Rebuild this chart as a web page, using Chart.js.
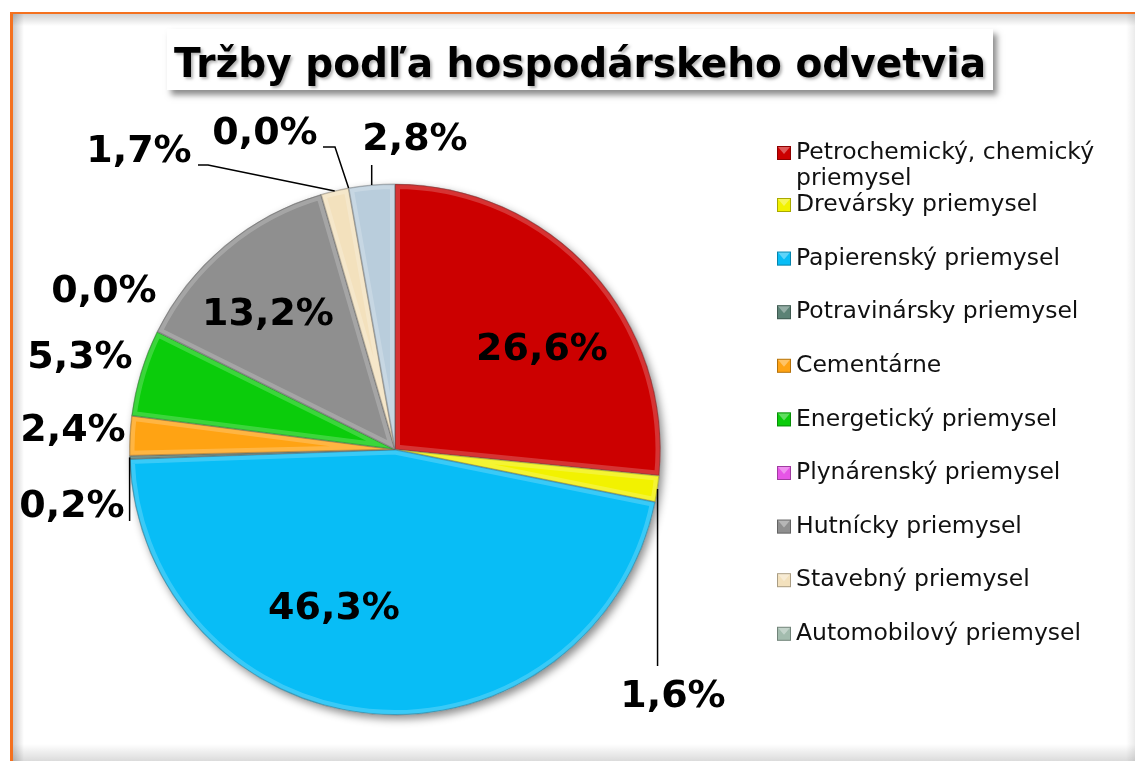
<!DOCTYPE html>
<html lang="sk">
<head>
<meta charset="utf-8">
<title>Tržby podľa hospodárskeho odvetvia</title>
<script src="https://cdn.jsdelivr.net/npm/chart.js@4.4.1/dist/chart.umd.min.js"></script>
<style>
  html, body { margin: 0; padding: 0; background: #fff; }
  canvas { display: block; }
</style>
</head>
<body>
<canvas id="myChart" width="1135" height="761"></canvas>
<script>
// --- data ---
const chartTitle = 'Tržby podľa hospodárskeho odvetvia';
const categories = [
  'Petrochemický, chemický priemysel',
  'Drevársky priemysel',
  'Papierenský priemysel',
  'Potravinársky priemysel',
  'Cementárne',
  'Energetický priemysel',
  'Plynárenský priemysel',
  'Hutnícky priemysel',
  'Stavebný priemysel',
  'Automobilový priemysel',
  'Ostatné'
];
// shares in %
const shares = [26.6, 1.6, 46.3, 0.2, 2.4, 5.3, 0.0, 13.2, 1.7, 0.0, 2.8];
const sliceColors = [
  '#cc0000', '#f2f200', '#08bdf6', '#5b8275', '#ffa313', '#0bcc0b',
  '#e655e6', '#8f8f8f', '#f3e1bd', '#a3bcae', '#b9cddc'
];
// the original legend shows only the first ten categories
const legendCount = 10;

// where the percentage labels sit; leader points with x = null keep the x of the slice edge
const labelSpots = [
  { x: 542, y: 350 },
  { x: 673, y: 697, leader: [[null, 666]] },
  { x: 334, y: 609 },
  { x: 72, y: 507, leader: [[null, 521]] },
  { x: 73, y: 431 },
  { x: 80, y: 358 },
  { x: 104, y: 292 },
  { x: 268, y: 315 },
  { x: 139, y: 152, leader: [[208, 165], [198, 165]] },
  { x: 265, y: 134, leader: [[335, 147], [323, 147]] },
  { x: 415, y: 140, leader: [[null, 165]] }
];

function fmtPct(v) {
  return v.toFixed(1).replace('.', ',') + '%';
}

// frame, title box
const backdrop = {
  id: 'backdrop',
  beforeDraw(chart) {
    const ctx = chart.ctx;
    const w = chart.width, h = chart.height;
    ctx.save();
    ctx.fillStyle = '#fff';
    ctx.fillRect(0, 0, w, h);

    // soft inner shadows of the frame
    let g = ctx.createLinearGradient(12, 0, 24, 0);
    g.addColorStop(0, 'rgba(0,0,0,0.22)');
    g.addColorStop(1, 'rgba(0,0,0,0)');
    ctx.fillStyle = g;
    ctx.fillRect(12, 14, 12, h - 14);
    g = ctx.createLinearGradient(0, 14, 0, 26);
    g.addColorStop(0, 'rgba(0,0,0,0.18)');
    g.addColorStop(1, 'rgba(0,0,0,0)');
    ctx.fillStyle = g;
    ctx.fillRect(12, 14, w - 12, 12);
    g = ctx.createLinearGradient(0, 744, 0, h);
    g.addColorStop(0, 'rgba(0,0,0,0)');
    g.addColorStop(1, 'rgba(0,0,0,0.14)');
    ctx.fillStyle = g;
    ctx.fillRect(12, 744, w - 12, h - 744);
    g = ctx.createLinearGradient(1126, 0, w, 0);
    g.addColorStop(0, 'rgba(0,0,0,0)');
    g.addColorStop(1, 'rgba(0,0,0,0.08)');
    ctx.fillStyle = g;
    ctx.fillRect(1126, 14, w - 1126, h - 14);

    // orange frame lines
    ctx.fillStyle = '#f4711f';
    ctx.fillRect(10, 12, 3, h - 12);
    ctx.fillRect(10, 12, w - 10, 2);

    // title box
    ctx.shadowColor = 'rgba(0,0,0,0.45)';
    ctx.shadowBlur = 6;
    ctx.shadowOffsetX = 4;
    ctx.shadowOffsetY = 5;
    ctx.fillStyle = '#fff';
    ctx.fillRect(167, 29, 826, 61);

    ctx.shadowColor = 'rgba(0,0,0,0.3)';
    ctx.shadowBlur = 3;
    ctx.shadowOffsetX = 2;
    ctx.shadowOffsetY = 2;
    ctx.fillStyle = '#000';
    ctx.font = 'bold 41px "DejaVu Sans"';
    ctx.textAlign = 'center';
    ctx.textBaseline = 'alphabetic';
    ctx.fillText(chartTitle, 580, 77, 812);
    ctx.restore();
  },
  beforeDatasetsDraw(chart) {
    // drop shadow under the pie
    const arc = chart.getDatasetMeta(0).data[0];
    const ctx = chart.ctx;
    ctx.save();
    ctx.shadowColor = 'rgba(0,0,0,0.45)';
    ctx.shadowBlur = 8;
    ctx.shadowOffsetX = 3;
    ctx.shadowOffsetY = 4;
    ctx.fillStyle = '#fff';
    ctx.beginPath();
    ctx.arc(arc.x, arc.y, arc.outerRadius, 0, Math.PI * 2);
    ctx.fill();
    ctx.restore();
  }
};

// bevel highlight, percentage labels with leader lines
const sliceLabels = {
  id: 'sliceLabels',
  afterDatasetsDraw(chart) {
    const ctx = chart.ctx;
    const meta = chart.getDatasetMeta(0);

    meta.data.forEach((arc) => {
      if (arc.endAngle - arc.startAngle < 0.001) return;
      ctx.save();
      ctx.beginPath();
      ctx.moveTo(arc.x, arc.y);
      ctx.arc(arc.x, arc.y, arc.outerRadius, arc.startAngle, arc.endAngle);
      ctx.closePath();
      ctx.clip();
      ctx.strokeStyle = 'rgba(255,255,255,0.2)';
      ctx.lineWidth = 10;
      ctx.stroke();
      ctx.strokeStyle = 'rgba(0,0,0,0.15)';
      ctx.lineWidth = 2;
      ctx.stroke();
      ctx.restore();
    });

    ctx.save();
    ctx.fillStyle = '#000';
    ctx.strokeStyle = '#000';
    ctx.lineWidth = 1.5;
    ctx.font = 'bold 38px "DejaVu Sans"';
    ctx.textAlign = 'center';
    ctx.textBaseline = 'middle';
    meta.data.forEach((arc, i) => {
      const spot = labelSpots[i];
      if (spot.leader) {
        const mid = (arc.startAngle + arc.endAngle) / 2;
        const ex = arc.x + Math.cos(mid) * arc.outerRadius;
        const ey = arc.y + Math.sin(mid) * arc.outerRadius;
        ctx.beginPath();
        ctx.moveTo(ex, ey);
        spot.leader.forEach(p => ctx.lineTo(p[0] === null ? ex : p[0], p[1]));
        ctx.stroke();
      }
      ctx.fillText(fmtPct(shares[i]), spot.x, spot.y);
    });
    ctx.restore();
  },
  afterDraw(chart) {
    // legend on the right, drawn from the chart's own labels and colours
    const ctx = chart.ctx;
    const labels = chart.data.labels;
    const colors = chart.data.datasets[0].backgroundColor;
    const maxW = 320;
    ctx.save();
    ctx.font = '23.5px "DejaVu Sans"';
    ctx.textAlign = 'left';
    ctx.textBaseline = 'middle';
    for (let i = 0; i < legendCount; i++) {
      const y = i === 0 ? 153 : 205 + (i - 1) * 53.6;
      ctx.fillStyle = colors[i];
      ctx.fillRect(777, y - 7, 14, 14);
      ctx.strokeStyle = 'rgba(0,0,0,0.3)';
      ctx.lineWidth = 1;
      ctx.strokeRect(777.5, y - 6.5, 13, 13);
      ctx.fillStyle = 'rgba(255,255,255,0.35)';
      ctx.beginPath();
      ctx.moveTo(778, y - 6);
      ctx.lineTo(790, y - 6);
      ctx.lineTo(784, y + 1);
      ctx.closePath();
      ctx.fill();

      // wrap long names onto a second line
      const words = labels[i].split(' ');
      let lines = [''];
      words.forEach(wd => {
        const cur = lines[lines.length - 1];
        const test = cur ? cur + ' ' + wd : wd;
        if (ctx.measureText(test).width > maxW && cur) lines.push(wd);
        else lines[lines.length - 1] = test;
      });
      ctx.fillStyle = '#111';
      lines.forEach((ln, k) => ctx.fillText(ln, 796, y + k * 26));
    }
    ctx.restore();
  }
};

const ctx = document.getElementById('myChart').getContext('2d');
const myChart = new Chart(ctx, {
  type: 'pie',
  data: {
    labels: categories,
    datasets: [
      {
        data: shares,
        backgroundColor: sliceColors,
        borderColor: 'rgba(80,80,80,0.35)',
        borderWidth: 1,
        hoverOffset: 0
      }
    ]
  },
  options: {
    responsive: false,
    animation: false,
    events: [],
    devicePixelRatio: 1,
    layout: {
      padding: { left: 129, right: 474, top: 183, bottom: 45 }
    },
    plugins: {
      legend: { display: false },
      title: { display: false },
      tooltip: { enabled: false }
    }
  },
  plugins: [backdrop, sliceLabels]
});
</script>
</body>
</html>
